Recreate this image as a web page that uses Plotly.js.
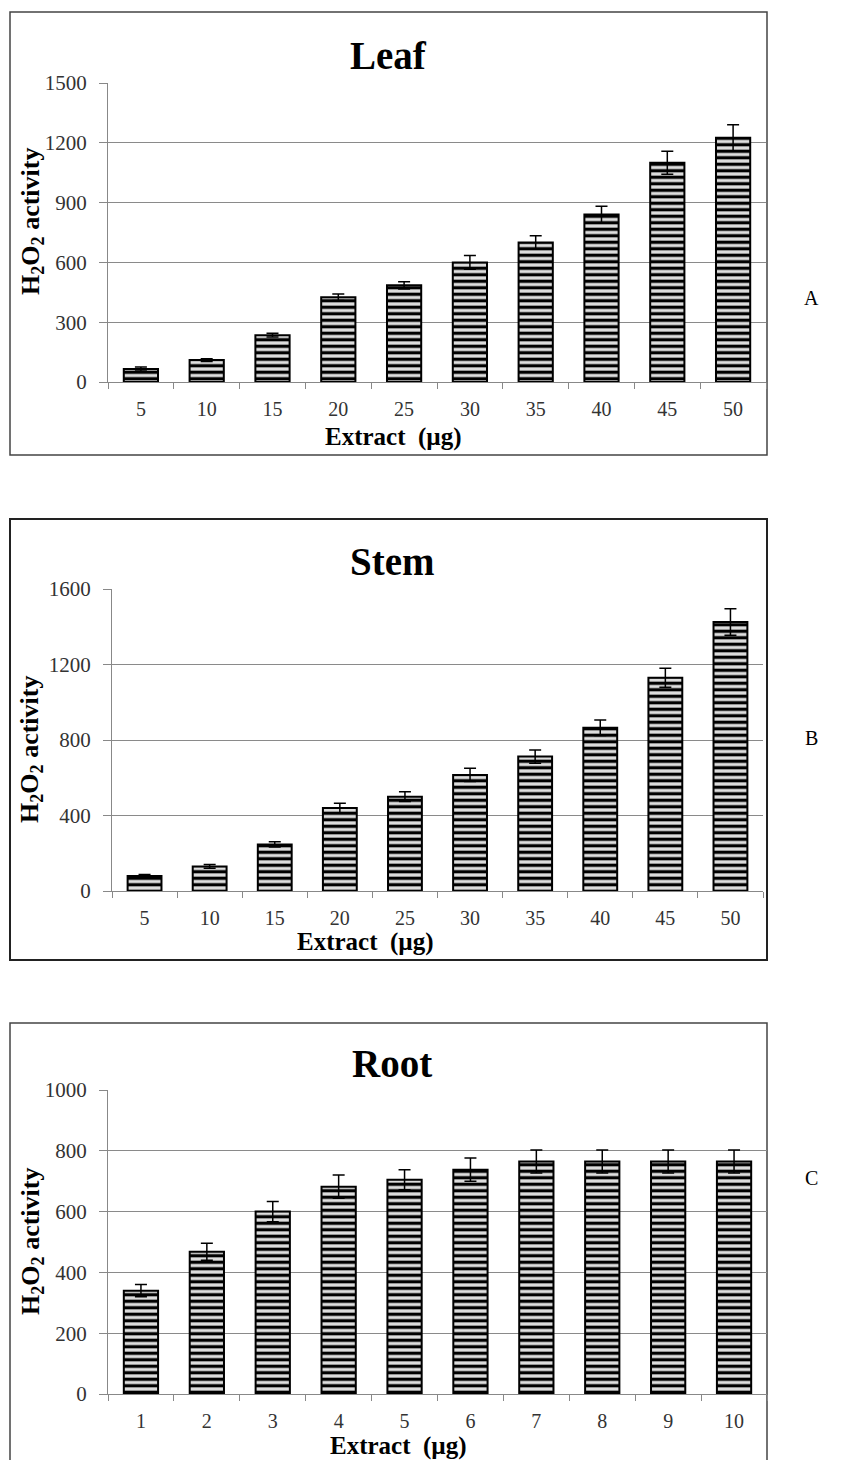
<!DOCTYPE html>
<html>
<head>
<meta charset="utf-8">
<script src="https://cdn.plot.ly/plotly-3.0.1.min.js"></script>
<style>html,body{margin:0;padding:0;background:#fff;}#chart{width:846px;height:1460px;}</style>
</head>
<body>
<div id="chart"></div>
<script>
const leafX = ['5','10','15','20','25','30','35','40','45','50'];
const leafY = [65,110,235,425,485,600,700,840,1100,1225];
const leafErr = [10,7,9,16,18,34,34,42,58,65];

const stemX = ['5','10','15','20','25','30','35','40','45','50'];
const stemY = [80,130,247,440,500,615,712,865,1130,1425];
const stemErr = [8,10,14,25,26,35,35,41,50,70];

const rootX = ['1','2','3','4','5','6','7','8','9','10'];
const rootY = [340,468,600,682,705,738,765,765,765,765];
const rootErr = [20,28,33,38,33,38,38,38,38,38];

const panelTitles = ['Leaf','Stem','Root'];
const panelLetters = ['A','B','C'];
const yMax = [1500,1600,1000];
const yStep = [300,400,200];

const W = 846, H = 1460;
const px = v => v / W;
const py = v => (H - v) / H;

const serif = 'Liberation Serif, Times New Roman, serif';

function barTrace(x, y, err, xa, ya) {
  return {
    type: 'bar', x: x, y: y, xaxis: xa, yaxis: ya,
    marker: {
      color: '#d9d9d9',
      line: {color: '#000', width: 2},
      pattern: {shape: '-', fgcolor: '#000', bgcolor: '#dedede', size: 6.5, solidity: 0.5}
    },
    error_y: {type: 'data', array: err, visible: true, color: '#000', thickness: 1.5, width: 6},
    hoverinfo: 'x+y', showlegend: false
  };
}

const data = [
  barTrace(leafX, leafY, leafErr, 'x', 'y'),
  barTrace(stemX, stemY, stemErr, 'x2', 'y2'),
  barTrace(rootX, rootY, rootErr, 'x3', 'y3')
];

// plot-area geometry in pixels [left, right, top, bottom]
const areas = [
  [108, 766, 83, 382],
  [112, 763, 589, 891],
  [108, 767, 1090, 1394]
];

function xAxis(a, anchor) {
  return {
    domain: [px(a[0]), px(a[1])], anchor: anchor, type: 'category',
    showline: true, linecolor: '#888', linewidth: 1,
    ticks: 'outside', tickson: 'boundaries', ticklen: 6, tickcolor: '#888',
    ticklabelstandoff: 9,
    showgrid: false, zeroline: false,
    tickfont: {family: serif, size: 20, color: '#333'}, fixedrange: true
  };
}
function yAxis(a, anchor, i) {
  return {
    domain: [py(a[3]), py(a[2])], anchor: anchor,
    range: [0, yMax[i]], dtick: yStep[i], tick0: 0,
    showline: true, linecolor: '#888', linewidth: 1,
    ticks: 'outside', ticklen: 8, tickcolor: '#888',
    ticklabelstandoff: 8,
    showgrid: true, gridcolor: '#8a8a8a', gridwidth: 1, zeroline: false,
    tickfont: {family: serif, size: 21, color: '#333'}, fixedrange: true
  };
}

const boxes = [[10, 767, 12, 455], [10, 767, 519, 960], [10, 767, 1023, 1475]];
const shapes = boxes.map((b, i) => ({
  type: 'rect', xref: 'paper', yref: 'paper',
  x0: px(b[0]), x1: px(b[1]), y0: py(b[3]), y1: py(b[2]),
  line: {color: i === 1 ? '#222' : '#444', width: i === 1 ? 2 : 1.5}, fillcolor: 'rgba(0,0,0,0)', layer: 'below'
}));

const titlePos = [[388, 55], [392, 561], [392, 1063]];
const xTitlePos = [[393, 437], [365, 942], [398, 1446]];
const yTitlePos = [[32, 222], [31, 750], [32, 1242]];
const letterPos = [[811, 298], [811, 738], [811, 1178]];

const annotations = [];
for (let i = 0; i < 3; i++) {
  annotations.push({
    text: '<b>' + panelTitles[i] + '</b>', xref: 'paper', yref: 'paper',
    x: px(titlePos[i][0]), y: py(titlePos[i][1]), xanchor: 'center', yanchor: 'middle',
    showarrow: false, font: {family: serif, size: 39, color: '#000'}
  });
  annotations.push({
    text: '<b>Extract  (µg)</b>', xref: 'paper', yref: 'paper',
    x: px(xTitlePos[i][0]), y: py(xTitlePos[i][1]), xanchor: 'center', yanchor: 'middle',
    showarrow: false, font: {family: serif, size: 25, color: '#000'}
  });
  annotations.push({
    text: '<b>H<sub>2</sub>O<sub>2</sub> activity</b>', xref: 'paper', yref: 'paper',
    x: px(yTitlePos[i][0]), y: py(yTitlePos[i][1]), xanchor: 'center', yanchor: 'middle',
    textangle: -90, showarrow: false, font: {family: serif, size: 26, color: '#000'}
  });
  annotations.push({
    text: panelLetters[i], xref: 'paper', yref: 'paper',
    x: px(letterPos[i][0]), y: py(letterPos[i][1]), xanchor: 'center', yanchor: 'middle',
    showarrow: false, font: {family: serif, size: 20, color: '#000'}
  });
}

const layout = {
  width: W, height: H,
  margin: {l: 0, r: 0, t: 0, b: 0, pad: 0},
  paper_bgcolor: '#fff', plot_bgcolor: 'rgba(0,0,0,0)',
  bargap: 0.48, showlegend: false,
  xaxis: xAxis(areas[0], 'y'), yaxis: yAxis(areas[0], 'x', 0),
  xaxis2: xAxis(areas[1], 'y2'), yaxis2: yAxis(areas[1], 'x2', 1),
  xaxis3: xAxis(areas[2], 'y3'), yaxis3: yAxis(areas[2], 'x3', 2),
  shapes: shapes, annotations: annotations
};

Plotly.newPlot('chart', data, layout, {displayModeBar: false, staticPlot: true});
</script>
</body>
</html>
